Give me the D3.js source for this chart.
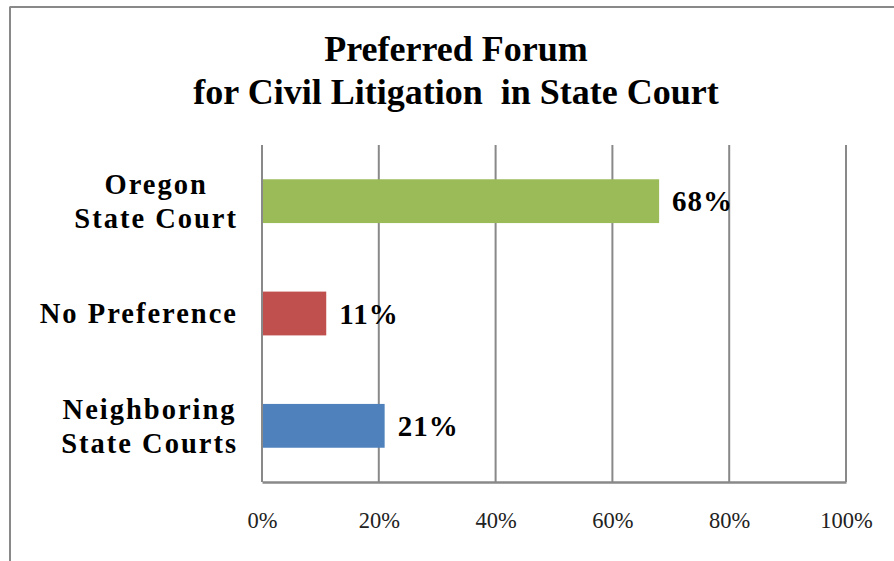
<!DOCTYPE html>
<html>
<head>
<meta charset="utf-8">
<script src="https://cdn.jsdelivr.net/npm/d3@7"></script>
<style>
  html, body { margin: 0; padding: 0; background: #fff; }
  svg { display: block; }
</style>
</head>
<body>
<svg id="chart" width="894" height="561"></svg>
<script>
const categories = [["Oregon", "State Court"], ["No Preference"], ["Neighboring", "State Courts"]];
const categoryKeys = ["Oregon State Court", "No Preference", "Neighboring State Courts"];
const values = [0.68, 0.11, 0.21];
const barColors = ["#9BBB59", "#C0504D", "#4F81BD"];
const tickValues = [0, 0.2, 0.4, 0.6, 0.8, 1.0];
const titleLines = ["Preferred Forum", "for Civil Litigation  in State Court"];

const svg = d3.select("#chart");
const serif = "'Liberation Serif', 'DejaVu Serif', serif";
const gridColor = "#898989";

// outer border (top and left visible)
svg.append("line").attr("x1", 9.5).attr("x2", 894).attr("y1", 7).attr("y2", 7)
  .attr("stroke", gridColor).attr("stroke-width", 2);
svg.append("line").attr("x1", 10).attr("x2", 10).attr("y1", 7).attr("y2", 561)
  .attr("stroke", gridColor).attr("stroke-width", 2);

// title
svg.append("text").attr("text-anchor", "middle")
  .attr("font-family", serif).attr("font-weight", "bold").attr("font-size", 36)
  .attr("fill", "#000").style("white-space", "pre")
  .selectAll("tspan").data(titleLines).join("tspan")
  .attr("x", 456).attr("y", (d, i) => 61 + i * 43).text(d => d);

const x = d3.scaleLinear().domain([0, 1]).range([262, 846]);
const y = d3.scaleBand().domain(categoryKeys).range([145, 482]).paddingInner(0.61).paddingOuter(0.305);

// gridlines
svg.append("g").selectAll("line").data(tickValues).join("line")
  .attr("x1", d => x(d)).attr("x2", d => x(d))
  .attr("y1", 145).attr("y2", 482)
  .attr("stroke", gridColor).attr("stroke-width", 2);

// bars
svg.append("g").selectAll("rect").data(values).join("rect")
  .attr("x", x(0) + 1)
  .attr("y", (d, i) => y(categoryKeys[i]))
  .attr("width", d => x(d) - x(0) - 1)
  .attr("height", y.bandwidth())
  .attr("fill", (d, i) => barColors[i]);

// bottom axis
const xAxis = d3.axisBottom(x).tickValues(tickValues)
  .tickFormat(d3.format(".0%")).tickSize(0).tickPadding(30);
const gx = svg.append("g").attr("transform", "translate(0,482)").call(xAxis);
gx.select(".domain").attr("stroke", gridColor).attr("stroke-width", 2.5);
gx.selectAll("text").attr("font-family", serif).attr("font-size", 22.5).attr("fill", "#222");

// value labels
svg.append("g").selectAll("text").data(values).join("text")
  .attr("x", d => x(d) + 13)
  .attr("y", (d, i) => y(categoryKeys[i]) + y.bandwidth() / 2)
  .attr("dy", "0.35em")
  .attr("font-family", serif).attr("font-weight", "bold").attr("font-size", 29)
  .attr("letter-spacing", 1)
  .attr("fill", "#000")
  .text(d => d3.format(".0%")(d));

// category labels: lines centered on each other, block right-aligned
const catG = svg.append("g");
const rightEdge = 238;
categories.forEach((lines, i) => {
  const cy = y(categoryKeys[i]) + y.bandwidth() / 2;
  const lh = 34;
  const t = catG.append("text").attr("text-anchor", "middle")
    .attr("font-family", serif).attr("font-weight", "bold").attr("font-size", 28.5)
    .attr("letter-spacing", 2).attr("fill", "#000");
  const spans = lines.map((ln, j) => t.append("tspan")
    .attr("y", cy + (j - (lines.length - 1) / 2) * lh)
    .attr("dy", "0.35em").text(ln));
  const maxW = d3.max(spans, s => s.node().getComputedTextLength());
  spans.forEach(s => s.attr("x", rightEdge - maxW / 2));
});
</script>
</body>
</html>
